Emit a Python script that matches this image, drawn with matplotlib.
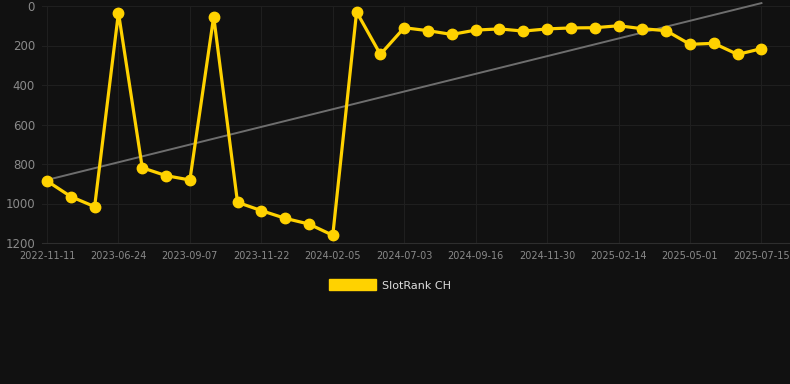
import matplotlib
matplotlib.use("Agg")
import matplotlib.pyplot as plt
from matplotlib.patches import Patch
import numpy as np

# Data
ranks = [886, 965, 1016, 34, 819, 859, 881, 54, 994, 1036, 1075, 1104, 1161, 30, 245,
         110, 125, 144, 122, 116, 127, 116, 111, 110, 100, 115, 125, 194, 189, 245, 216]
tick_labels = ["2022-11-11", "2023-06-24", "2023-09-07", "2023-11-22", "2024-02-05",
               "2024-07-03", "2024-09-16", "2024-11-30", "2025-02-14", "2025-05-01",
               "2025-07-15"]
series_name = "SlotRank CH"

bg = "#111111"
yellow = "#FFD200"

fig = plt.figure(figsize=(7.9, 3.84), dpi=100, facecolor=bg)
ax = fig.add_axes([42/790, 1-243/384, 748/790, 237/384], facecolor=bg)

x = np.arange(len(ranks))
y = np.array(ranks, dtype=float)

# trend line (linear fit)
k, b = np.polyfit(x, y, 1)
ax.plot([x[0], x[-1]], [k*x[0]+b, k*x[-1]+b], color="#6e6e6e", lw=1.4, zorder=2,
        clip_on=False)

ax.plot(x, y, color=yellow, lw=2.3, marker="o", markersize=7.5,
        solid_joinstyle="miter", zorder=3, clip_on=False)

ax.set_ylim(1200, 0)
ax.set_xlim(-0.21, 31.2)
ax.set_yticks([0, 200, 400, 600, 800, 1000, 1200])
ax.set_xticks(x[::3])
ax.set_xticklabels(tick_labels)

ax.grid(True, color="#1f1f1f", lw=0.8)
ax.set_axisbelow(True)
for s in ["top", "right", "left"]:
    ax.spines[s].set_visible(False)
ax.spines["bottom"].set_color("#2e2e2e")
ax.tick_params(axis="both", length=0, colors="#8a8a8a")
ax.tick_params(axis="y", labelsize=8.5, pad=5)
ax.tick_params(axis="x", labelsize=7, pad=6)

fig.legend(handles=[Patch(facecolor=yellow, edgecolor=yellow)], labels=[series_name],
           loc="center", bbox_to_anchor=(390/790, 1-285/384), frameon=False,
           fontsize=8, labelcolor="#dddddd", handlelength=4.2, handleheight=1.1,
           handletextpad=0.6)

fig.savefig("out.png", dpi=100, facecolor=bg)
